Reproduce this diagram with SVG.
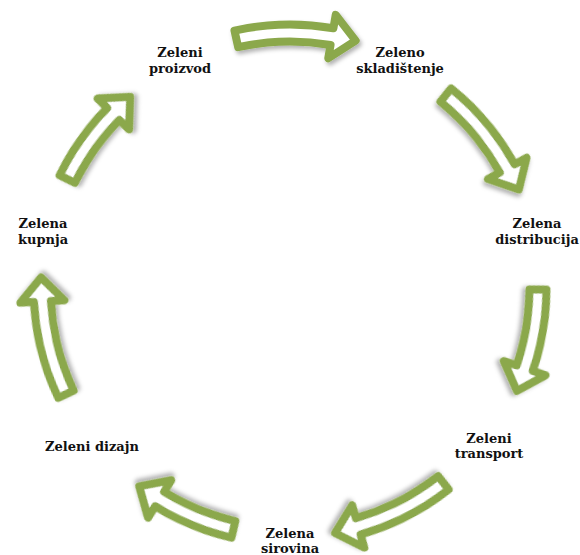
<svg xmlns="http://www.w3.org/2000/svg" width="580" height="555" viewBox="0 0 580 555">
<defs>
<filter id="sh" x="-30%" y="-30%" width="160%" height="160%">
<feDropShadow dx="2" dy="3" stdDeviation="2" flood-color="#000" flood-opacity="0.3"/>
</filter>
<path id="arr" d="M -55.51,-250.42 A 256.5 256.5 0 0 1 43.43,-252.81 L 45.71,-266.11 L 65.64,-240.37 L 38.26,-222.75 L 40.55,-236.05 A 239.5 239.5 0 0 0 -51.83,-233.82 Z"/>
<path id="arrS" d="M -55.51,-250.42 A 256.5 256.5 0 0 1 26.81,-255.09 L 28.22,-268.52 L 49.79,-244.13 L 23.62,-224.76 L 25.03,-238.19 A 239.5 239.5 0 0 0 -51.83,-233.82 Z"/>
</defs>
<style>
.a{fill:#ffffff;stroke:#8BA84C;stroke-width:8;stroke-linejoin:round;filter:url(#sh)}
.t{font-family:"DejaVu Serif","Liberation Serif",serif;font-weight:bold;font-size:13px;fill:#111111;text-anchor:middle}
</style>
<rect width="580" height="555" fill="#ffffff"/>
<g id="connectors">
<use href="#arr" class="a" transform="translate(290,281) rotate(0)"/>
<use href="#arr" class="a" transform="translate(290,288) rotate(51.43)"/>
<use href="#arrS" class="a" transform="translate(290,288) rotate(102.86)"/>
<use href="#arr" class="a" transform="translate(290,288) rotate(154.29)"/>
<use href="#arrS" class="a" transform="translate(290,288) rotate(205.71)"/>
<use href="#arr" class="a" transform="translate(290,288) rotate(257.14)"/>
<use href="#arrS" class="a" transform="translate(290,288) rotate(308.57)"/>
</g>
<g id="n1"><text class="t" x="180" y="57">Zeleni</text><text class="t" x="180" y="73">proizvod</text></g>
<g id="n2"><text class="t" x="400" y="57">Zeleno</text><text class="t" x="400" y="73">skladištenje</text></g>
<g id="n3"><text class="t" x="537" y="228">Zelena</text><text class="t" x="537" y="244">distribucija</text></g>
<g id="n4"><text class="t" x="489" y="443">Zeleni</text><text class="t" x="489" y="458">transport</text></g>
<g id="n5"><text class="t" x="290" y="538">Zelena</text><text class="t" x="290" y="553">sirovina</text></g>
<g id="n6"><text class="t" x="92" y="451">Zeleni dizajn</text></g>
<g id="n7"><text class="t" x="43" y="228">Zelena</text><text class="t" x="43" y="244">kupnja</text></g>
</svg>
